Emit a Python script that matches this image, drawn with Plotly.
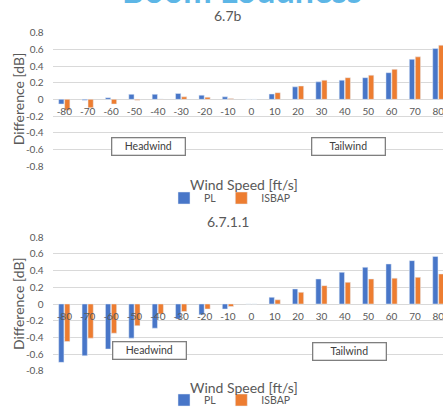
import plotly.graph_objects as go

categories = ["-80", "-70", "-60", "-50", "-40", "-30", "-20", "-10", "0",
              "10", "20", "30", "40", "50", "60", "70", "80"]

# Chart 1: 6.7b
pl_67b = [-0.056, -0.01, 0.02, 0.06, 0.06, 0.07, 0.05, 0.03, 0.0,
          0.064, 0.15, 0.21, 0.23, 0.26, 0.32, 0.48, 0.61]
isbap_67b = [-0.13, -0.10, -0.056, -0.01, 0.005, 0.03, 0.025, 0.01, 0.0,
             0.08, 0.16, 0.23, 0.26, 0.29, 0.36, 0.51, 0.65]

# Chart 2: 6.7.1.1
pl_6711 = [-0.70, -0.62, -0.54, -0.41, -0.29, -0.18, -0.13, -0.06, 0.0,
           0.08, 0.18, 0.30, 0.38, 0.44, 0.48, 0.52, 0.57]
isbap_6711 = [-0.45, -0.41, -0.35, -0.26, -0.12, -0.09, -0.06, -0.03, 0.0,
              0.05, 0.14, 0.22, 0.26, 0.30, 0.31, 0.32, 0.36]

y_tickvals = [0.8, 0.6, 0.4, 0.2, 0, -0.2, -0.4, -0.6, -0.8]
y_ticktext = ["0.8", "0.6", "0.4", "0.2", "0", "-0.2", "-0.4", "-0.6", "-0.8"]

BLUE = "#4876C8"
ORANGE = "#ED7D31"
GRID = "#D9D9D9"
TXT = "#595959"
FONT = "Lato"

W, H = 443, 409

def py(p):
    return 1 - p / H

def px(p):
    return p / W

top_dom = [py(166.0), py(32.7)]
bot_dom = [py(370.7), py(237.3)]
x_dom = [px(52.6), 1.0]
x_range = [-0.5, 16.2]

fig = go.Figure()
fig.add_trace(go.Bar(x=categories, y=pl_67b, name="PL", marker_color=BLUE,
                     xaxis="x", yaxis="y", legend="legend"))
fig.add_trace(go.Bar(x=categories, y=isbap_67b, name="ISBAP", marker_color=ORANGE,
                     xaxis="x", yaxis="y", legend="legend"))
fig.add_trace(go.Bar(x=categories, y=pl_6711, name="PL", marker_color=BLUE,
                     xaxis="x2", yaxis="y2", legend="legend2"))
fig.add_trace(go.Bar(x=categories, y=isbap_6711, name="ISBAP", marker_color=ORANGE,
                     xaxis="x2", yaxis="y2", legend="legend2"))

def xax(dom):
    return dict(domain=x_dom, range=x_range, type="category", anchor="free",
                position=(dom[0] + dom[1]) / 2, automargin=False,
                showgrid=False, showline=False, zeroline=False,
                ticks="outside", ticklen=3, tickcolor="rgba(0,0,0,0)",
                tickfont=dict(size=10, color=TXT, family=FONT))

def yax(dom, xref):
    return dict(domain=dom, range=[-0.8, 0.8], anchor=xref, automargin=False,
                tickvals=y_tickvals, ticktext=y_ticktext,
                showgrid=True, gridcolor=GRID, gridwidth=1,
                zeroline=True, zerolinecolor=GRID, zerolinewidth=1,
                showline=False, ticks="outside", ticklen=6,
                tickcolor="rgba(0,0,0,0)",
                tickfont=dict(size=10, color=TXT, family=FONT))

annotations = []
# partially visible main title at the top (cut off in the original)
annotations.append(dict(text="<b>Boom Loudness</b>", x=px(242), y=py(12),
                        xref="paper", yref="paper", xanchor="center", yanchor="bottom",
                        showarrow=False, font=dict(size=34, color="#5DB6E6", family=FONT)))
# subtitles
annotations.append(dict(text="6.7b", x=px(228), y=py(16), xref="paper", yref="paper",
                        xanchor="center", yanchor="middle", showarrow=False,
                        font=dict(size=14, color=TXT, family=FONT)))
annotations.append(dict(text="6.7.1.1", x=px(228), y=py(221), xref="paper", yref="paper",
                        xanchor="center", yanchor="middle", showarrow=False,
                        font=dict(size=14, color=TXT, family=FONT)))
# axis titles
for yc in (184, 387):
    annotations.append(dict(text="Wind Speed [ft/s]", x=px(243.5), y=py(yc),
                            xref="paper", yref="paper", xanchor="center", yanchor="middle",
                            showarrow=False, font=dict(size=14, color=TXT, family=FONT)))
for dom in (top_dom, bot_dom):
    annotations.append(dict(text="Difference [dB]", x=px(18), y=(dom[0] + dom[1]) / 2,
                            xref="paper", yref="paper", xanchor="center", yanchor="middle",
                            textangle=-90, showarrow=False,
                            font=dict(size=14, color=TXT, family=FONT)))
# Headwind / Tailwind boxes
for xr, yr, lab, xc, yc in [("x", "y", "Headwind", 3.62, -0.56),
                            ("x", "y", "Tailwind", 12.16, -0.56),
                            ("x2", "y2", "Headwind", 3.66, -0.56),
                            ("x2", "y2", "Tailwind", 12.18, -0.565)]:
    annotations.append(dict(text=lab, x=xc, y=yc, xref=xr, yref=yr,
                            xanchor="center", yanchor="middle", showarrow=False,
                            width=70, height=14, borderpad=1, borderwidth=1.3,
                            bordercolor="#7F7F7F", bgcolor="white",
                            font=dict(size=10.5, color="#404040", family=FONT)))

leg_common = dict(orientation="h", xanchor="center", yanchor="middle",
                  xref="container", yref="container",
                  font=dict(size=10.5, color=TXT, family=FONT), itemwidth=30,
                  bgcolor="rgba(0,0,0,0)", tracegroupgap=0)

fig.update_layout(
    width=W, height=H, margin=dict(l=0, r=0, t=0, b=0, autoexpand=False),
    paper_bgcolor="white", plot_bgcolor="white",
    barmode="group", bargap=0.49, bargroupgap=0.12,
    xaxis=xax(top_dom), yaxis=yax(top_dom, "x"),
    xaxis2=xax(bot_dom), yaxis2=yax(bot_dom, "x2"),
    legend=dict(leg_common, x=px(230), y=py(198)),
    legend2=dict(leg_common, x=px(230), y=py(400)),
    annotations=annotations,
    showlegend=True,
)

fig.write_html("out.html", config={"displayModeBar": False},
               post_script="document.body.style.margin='0';document.body.style.overflow='hidden';")
